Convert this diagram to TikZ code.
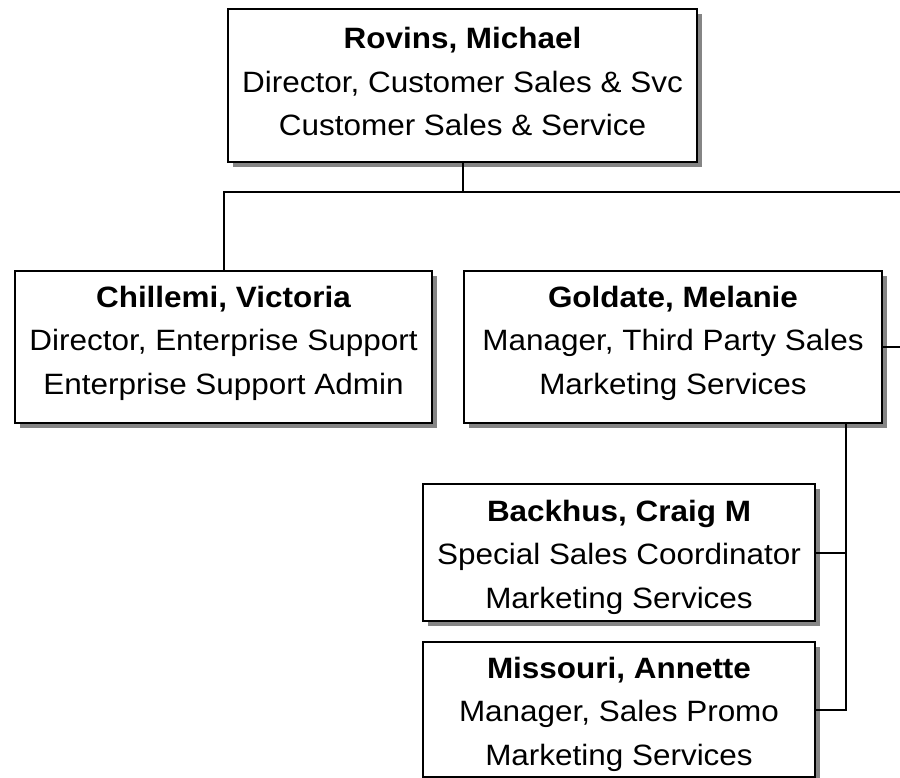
\documentclass[tikz,border=0pt]{standalone}
\usepackage{fontspec}
\setmainfont[FakeStretch=1.07]{Liberation Sans}
\usetikzlibrary{shadows}
\begin{document}
\begin{tikzpicture}[x=1pt,y=-1pt,
  person/.style={draw=black, line width=2pt, fill=white, rectangle, inner sep=0pt,
    drop shadow={shadow xshift=5pt, shadow yshift=-5pt, fill=black!48, opacity=1}},
  txt/.style={align=center, inner sep=0pt, font=\fontsize{29.4}{43.5}\selectfont},
  conn/.style={draw=black, line width=2pt}]
\useasboundingbox (0,0) rectangle (900,778);
\node[person, minimum width=469pt, minimum height=153pt] (r) at (462.5,85.5) {};
\node[person, minimum width=417pt, minimum height=152pt] (c) at (223.5,347) {};
\node[person, minimum width=418pt, minimum height=152pt] (g) at (673,347) {};
\node[person, minimum width=392pt, minimum height=137pt] (b) at (619,552.5) {};
\node[person, minimum width=392pt, minimum height=135pt] (m) at (619,709.5) {};
\node[txt] (rt) at ([yshift=4pt]r.center)
  {\textbf{Rovins, Michael}\\Director, Customer Sales \& Svc\\Customer Sales \& Service};
\node[txt] (ct) at ([yshift=4pt]c.center)
  {\textbf{Chillemi, Victoria}\\Director, Enterprise Support\\Enterprise Support Admin};
\node[txt] (gt) at ([yshift=4pt]g.center)
  {\textbf{Goldate, Melanie}\\Manager, Third Party Sales\\Marketing Services};
\node[txt] (bt) at ([yshift=-4.5pt]b.center)
  {\textbf{Backhus, Craig M}\\Special Sales Coordinator\\Marketing Services};
\node[txt] (mt) at ([yshift=-4.5pt]m.center)
  {\textbf{Missouri, Annette}\\Manager, Sales Promo\\Marketing Services};
\coordinate (bus) at (462.5,192);
\coordinate (busR) at (910,192);
\coordinate (gR) at (910,347);
\coordinate (gd) at ([xshift=-37pt]g.south east);
\draw[conn] (r.south) -- (bus);
\draw[conn] (c.north) |- (busR);
\draw[conn] (g.east) -- (gR);
\draw[conn] (gd) |- (m.east);
\draw[conn] (b.east) -- (b.east -| gd);
\end{tikzpicture}
\end{document}
